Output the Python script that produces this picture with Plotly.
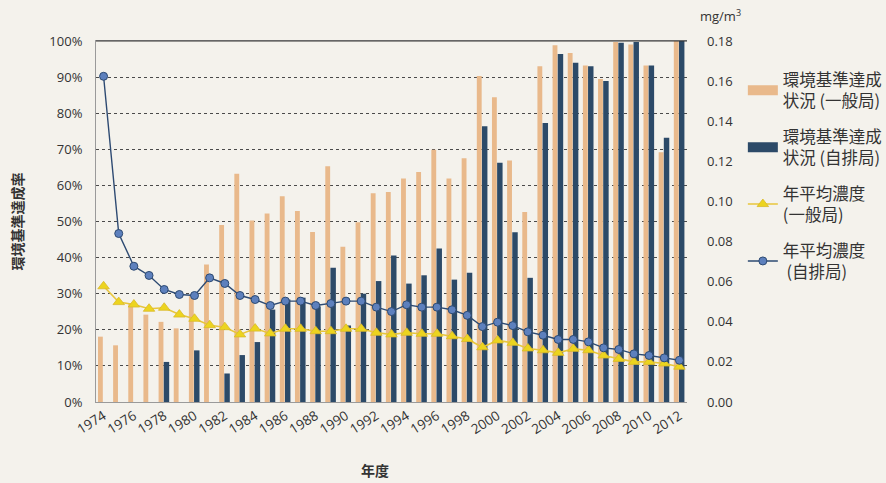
import plotly.graph_objects as go

years = [1974, 1975, 1976, 1977, 1978, 1979, 1980, 1981, 1982, 1983,
         1984, 1985, 1986, 1987, 1988, 1989, 1990, 1991, 1992, 1993,
         1994, 1995, 1996, 1997, 1998, 1999, 2000, 2001, 2002, 2003,
         2004, 2005, 2006, 2007, 2008, 2009, 2010, 2011, 2012]

rate_general = [18.1, 15.7, 27.3, 24.2, 22.2, 20.4, 29.3, 38.1, 49.0, 63.2,
                50.3, 52.2, 57.0, 52.9, 47.1, 65.3, 43.0, 49.8, 57.8, 58.2,
                61.9, 63.7, 69.9, 61.9, 67.5, 90.3, 84.4, 66.9, 52.6, 93.0,
                98.8, 96.7, 93.2, 89.5, 99.7, 99.0, 93.2, 69.2, 100.0]

rate_roadside = [0, 0, 0, 0, 11.1, 0, 14.3, 0, 7.9, 13.0,
                 16.6, 25.6, 28.4, 28.9, 26.5, 37.2, 21.2, 30.0, 33.5, 40.6,
                 32.8, 35.1, 42.5, 33.9, 35.8, 76.4, 66.3, 47.0, 34.4, 77.3,
                 96.4, 94.0, 93.0, 88.9, 99.5, 99.7, 93.2, 73.2, 100.0]

conc_general = [0.0577, 0.0498, 0.0486, 0.0465, 0.0470, 0.0436, 0.0415, 0.0383, 0.0373, 0.0337,
                0.0366, 0.0342, 0.0365, 0.0365, 0.0353, 0.0353, 0.0365, 0.0365, 0.0345, 0.0337,
                0.0345, 0.0340, 0.0340, 0.0328, 0.0314, 0.0273, 0.0307, 0.0295, 0.0267, 0.0258,
                0.0245, 0.0265, 0.0258, 0.0232, 0.0215, 0.0200, 0.0200, 0.0192, 0.0176]

conc_roadside = [0.1624, 0.0840, 0.0677, 0.0631, 0.0561, 0.0536, 0.0531, 0.0619, 0.0591, 0.0531,
                 0.0511, 0.0481, 0.0503, 0.0503, 0.0481, 0.0491, 0.0503, 0.0503, 0.0473, 0.0451,
                 0.0485, 0.0473, 0.0473, 0.0460, 0.0432, 0.0376, 0.0398, 0.0381, 0.0350, 0.0333,
                 0.0312, 0.0312, 0.0300, 0.0270, 0.0262, 0.0240, 0.0232, 0.0220, 0.0208]

left_ticks = [0, 10, 20, 30, 40, 50, 60, 70, 80, 90, 100]
right_ticks = [0.00, 0.02, 0.04, 0.06, 0.08, 0.10, 0.12, 0.14, 0.16, 0.18]
x_ticks = [1974, 1976, 1978, 1980, 1982, 1984, 1986, 1988, 1990, 1992,
           1994, 1996, 1998, 2000, 2002, 2004, 2006, 2008, 2010, 2012]

names = ["環境基準達成<br>状況 (一般局)", "環境基準達成<br>状況 (自排局)",
         "年平均濃度<br>(一般局)", "年平均濃度<br> (自排局)"]

BG = "#f4f2ec"
ORANGE = "#e9b98b"
NAVY = "#2c4a68"
TXT = "#333333"
CJK = "Noto Sans CJK JP"
LAT = "Open Sans"

fig = go.Figure()
fig.add_trace(go.Bar(
    x=years, y=rate_general, name=names[0], showlegend=False,
    marker=dict(color=ORANGE, line=dict(width=0)),
    width=0.32, offset=-0.37, legendgroup="a", yaxis="y"))
fig.add_trace(go.Bar(
    x=years, y=rate_roadside, name=names[1], showlegend=False,
    marker=dict(color=NAVY, line=dict(width=0)),
    width=0.36, offset=-0.03, legendgroup="b", yaxis="y"))
# legend keys for the bar series (wide rectangular swatches)
fig.add_trace(go.Scatter(
    x=[None], y=[None], name=names[0], mode="lines",
    line=dict(color=ORANGE, width=10), legendgroup="a", yaxis="y"))
fig.add_trace(go.Scatter(
    x=[None], y=[None], name=names[1], mode="lines",
    line=dict(color=NAVY, width=10), legendgroup="b", yaxis="y"))
fig.add_trace(go.Scatter(
    x=years, y=conc_general, name=names[2], mode="lines+markers",
    line=dict(color="#e8c63c", width=1.6),
    marker=dict(symbol="triangle-up", size=10, color="#ecd41f",
                line=dict(color="#d9b92a", width=0.8)),
    legendgroup="c", yaxis="y2"))
fig.add_trace(go.Scatter(
    x=years, y=conc_roadside, name=names[3], mode="lines+markers",
    line=dict(color="#2d4a72", width=1.4),
    marker=dict(symbol="circle", size=8, color="#5d80bd",
                line=dict(color="#2d4a72", width=1)),
    legendgroup="d", yaxis="y2"))

fig.update_layout(
    width=886, height=483,
    margin=dict(l=96, r=199, t=41, b=81, autoexpand=False),
    paper_bgcolor=BG, plot_bgcolor=BG,
    barmode="overlay",
    showlegend=True,
    legend=dict(x=1.0945, y=0.941, xanchor="left", yanchor="top",
                font=dict(family=CJK, size=16.5, color=TXT),
                bgcolor="rgba(0,0,0,0)", tracegroupgap=11,
                itemwidth=30),
    xaxis=dict(range=[1973.5, 2012.5], tickmode="array", tickvals=x_ticks,
               tickangle=-32, tickfont=dict(family=LAT, size=13.5, color=TXT),
               showgrid=False, showline=True, linecolor="#9a9a9a", linewidth=1,
               mirror=True, ticks="", zeroline=False),
    yaxis=dict(range=[0, 100], tickmode="array", tickvals=left_ticks,
               ticktext=[f"{v}%" for v in left_ticks],
               tickfont=dict(family=LAT, size=13, color=TXT),
               showgrid=True, gridcolor="#4a4a4a", griddash="dot", gridwidth=1,
               showline=True, linecolor="#9a9a9a", linewidth=1, ticks="",
               ticklabelstandoff=10, zeroline=False,
               title=dict(text="<b>環境基準達成率</b>",
                          font=dict(family=CJK, size=14, color=TXT), standoff=22)),
    yaxis2=dict(range=[0, 0.18], overlaying="y", side="right", tickmode="array",
                tickvals=right_ticks, ticktext=[f"{v:.2f}" for v in right_ticks],
                tickfont=dict(family=LAT, size=13, color=TXT),
                showgrid=False, showline=False, ticks="", zeroline=False,
                ticklabelstandoff=19),
    font=dict(family=LAT, color=TXT),
)

fig.add_shape(type="line", xref="paper", yref="paper", x0=0, x1=1, y0=1, y1=1,
              line=dict(color="#333333", width=1.2))

fig.add_annotation(text="mg/m<sup>3</sup>", xref="paper", yref="paper",
                   x=1.0, y=1.0, xshift=33, yshift=26, showarrow=False,
                   xanchor="center", yanchor="middle",
                   font=dict(family=LAT, size=13, color=TXT))
fig.add_annotation(text="<b>年度</b>", xref="paper", yref="paper",
                   x=(375 - 96) / 591, y=0, yshift=-68, showarrow=False,
                   xanchor="center", yanchor="middle",
                   font=dict(family=CJK, size=14, color=TXT))

fig.write_html(
    "out.html",
    config={"displayModeBar": False},
    post_script="document.body.style.margin='0';document.body.style.background='#f4f2ec';",
)
